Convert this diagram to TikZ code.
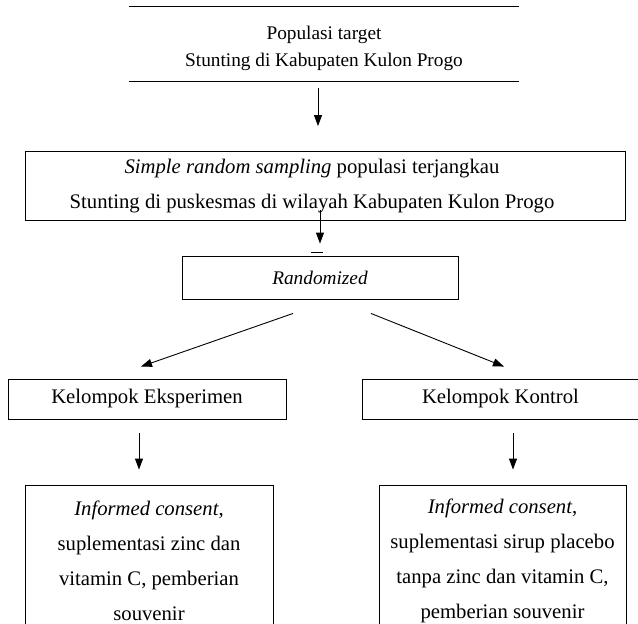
\documentclass[tikz,border=0pt]{standalone}
\usepackage{fontspec}
\setmainfont{Liberation Serif}
\usetikzlibrary{arrows.meta,positioning}
\tikzset{
  stbox/.style={
    draw=black,
    line width=0.9pt,
    align=center,
    inner sep=0pt,
    font=\fontsize{20.7}{35}\selectfont
  },
  stflow/.style={-{Triangle[length=11pt,width=8pt]}, line width=0.9pt, draw=black}
}

\begin{document}
\begin{tikzpicture}[x=1pt,y=-1pt]
  \useasboundingbox (0,0) rectangle (638,624);
  \node[stbox, draw=none, minimum width=390pt, minimum height=74pt, font=\fontsize{19.3}{27}\selectfont] (pop) at (324,48) {Populasi target\\Stunting di Kabupaten Kulon Progo};
  \draw[line width=0.9pt] ([yshift=4pt]pop.north west) -- ([yshift=4pt]pop.north east) ([yshift=4pt]pop.south west) -- ([yshift=4pt]pop.south east);
  \node[stbox, minimum width=600pt, minimum height=69pt] (samp) at (325,186) {\textit{Simple random sampling} populasi terjangkau\hspace*{26pt}\\Stunting di puskesmas di wilayah Kabupaten Kulon Progo\hspace*{26pt}};
  \node[stbox, minimum width=276pt, minimum height=43pt, font=\fontsize{19.3}{35}\selectfont] (rand) at (320,277.5) {\textit{Randomized}};
  \node[stbox, minimum width=278pt, minimum height=40pt] (eksp) at (147,399) {Kelompok Eksperimen};
  \node[stbox, minimum width=277pt, minimum height=40pt] (kont) at (500.5,399) {Kelompok Kontrol};
  \node[stbox, minimum width=248pt, minimum height=151pt] (intA) at (149,560.5) {\textit{Informed consent},\\suplementasi zinc dan\\vitamin C, pemberian\\souvenir};
  \node[stbox, minimum width=247pt, minimum height=151pt] (intB) at (502.5,560.5) {\textit{Informed consent},\\suplementasi sirup placebo\\tanpa zinc dan vitamin C,\\pemberian souvenir};
  \draw[stflow, shorten <=3pt, shorten >=25pt] ([xshift=-6pt]pop.south) -- ([xshift=-6pt]pop.south |- samp.north);
  \draw[stflow, shorten <=-11pt, shorten >=12pt] (rand.north |- samp.south) -- (rand.north);
  \draw[line width=0.8pt] ([xshift=-9pt,yshift=3pt]rand.north) -- ([xshift=3pt,yshift=3pt]rand.north);
  \draw[stflow] ([xshift=-27pt,yshift=-14pt]rand.south) -- ([xshift=-6pt,yshift=12pt]eksp.north);
  \draw[stflow] ([xshift=51pt,yshift=-14pt]rand.south) -- ([xshift=3.5pt,yshift=12pt]kont.north);
  \draw[stflow] ([xshift=-8pt,yshift=-14pt]eksp.south) -- ([xshift=-10pt,yshift=15pt]intA.north);
  \draw[stflow] ([xshift=12.5pt,yshift=-14pt]kont.south) -- ([xshift=10.5pt,yshift=15pt]intB.north);
\end{tikzpicture}
\end{document}
